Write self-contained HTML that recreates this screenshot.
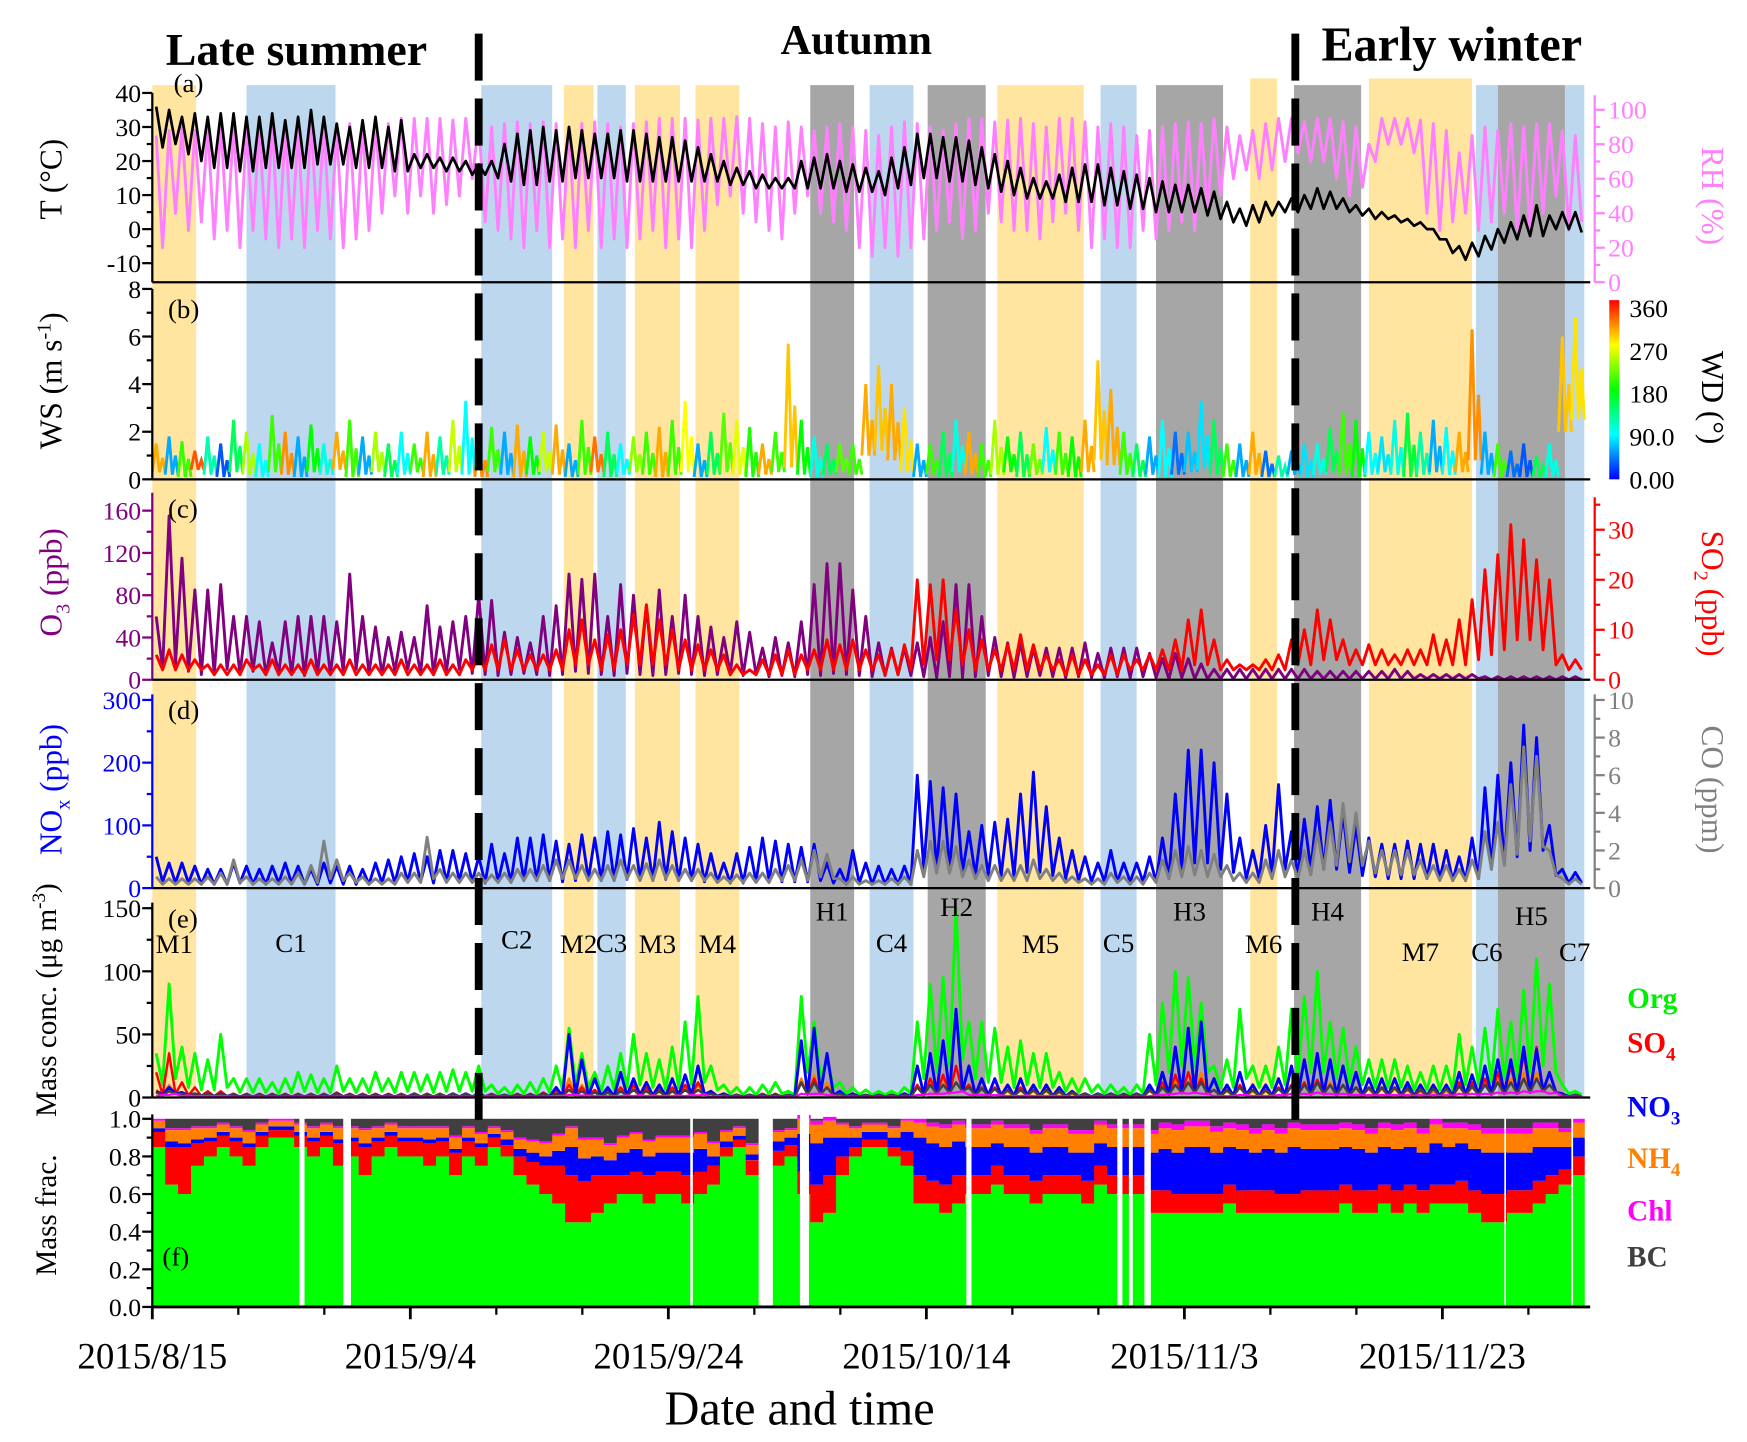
<!DOCTYPE html>
<html><head><meta charset="utf-8">
<style>
html,body{margin:0;padding:0;background:#fff;}
svg{display:block;font-family:"Liberation Serif",serif;}
</style></head>
<body>
<svg id="fig" xmlns="http://www.w3.org/2000/svg" width="1747" height="1442" viewBox="0 0 1560 1287.6" preserveAspectRatio="none">
<defs>
<linearGradient id="jet" x1="0" y1="1" x2="0" y2="0">
<stop offset="0" stop-color="#0000ff"/><stop offset="0.25" stop-color="#00ffff"/><stop offset="0.5" stop-color="#00ff00"/><stop offset="0.75" stop-color="#ffff00"/><stop offset="1" stop-color="#ff0000"/>
</linearGradient>
<clipPath id="cpa"><rect x="136" y="60" width="1284" height="192"/></clipPath>
<clipPath id="cpb"><rect x="136" y="252" width="1284" height="176"/></clipPath>
<clipPath id="cpc"><rect x="136" y="428" width="1284" height="179"/></clipPath>
<clipPath id="cpd"><rect x="136" y="607" width="1284" height="186"/></clipPath>
<clipPath id="cpe"><rect x="136" y="793" width="1284" height="187"/></clipPath>
</defs>
<g id="bands"></g>
<g id="marks"></g>
<g id="axes"></g>
<g id="labels">
<text x="148" y="58" font-size="41" font-weight="bold">Late summer</text>
<text x="697" y="48" font-size="38" font-weight="bold">Autumn</text>
<text x="1180" y="54" font-size="43" font-weight="bold">Early winter</text>
<text x="155" y="82" font-size="24">(a)</text>
<text x="150" y="284" font-size="24">(b)</text>
<text x="150" y="462" font-size="24">(c)</text>
<text x="150" y="642" font-size="24">(d)</text>
<text x="150" y="828" font-size="24">(e)</text>
<text x="145" y="1130" font-size="24">(f)</text>
<text transform="translate(55,160) rotate(-90)" text-anchor="middle" font-size="28">T (°C)</text>
<text transform="translate(55,340) rotate(-90)" text-anchor="middle" font-size="28">WS (m s<tspan font-size="18" dy="-10">-1</tspan><tspan dy="10">)</tspan></text>
<text transform="translate(55,520) rotate(-90)" text-anchor="middle" font-size="28" fill="#800080">O<tspan font-size="18" dy="7">3</tspan><tspan dy="-7"> (ppb)</tspan></text>
<text transform="translate(55,705) rotate(-90)" text-anchor="middle" font-size="28" fill="#0000ff">NO<tspan font-size="18" dy="7">x</tspan><tspan dy="-7"> (ppb)</tspan></text>
<text transform="translate(50,893) rotate(-90)" text-anchor="middle" font-size="26">Mass  conc. (μg m<tspan font-size="17" dy="-10">-3</tspan><tspan dy="10">)</tspan></text>
<text transform="translate(50,1085) rotate(-90)" text-anchor="middle" font-size="26">Mass frac.</text>
<text transform="translate(1520,175) rotate(90)" text-anchor="middle" font-size="28" fill="#ff80ff">RH (%)</text>
<text transform="translate(1520,355) rotate(90)" text-anchor="middle" font-size="28">WD (°)</text>
<text transform="translate(1520,530) rotate(90)" text-anchor="middle" font-size="28" fill="#ff0000">SO<tspan font-size="18" dy="7">2</tspan><tspan dy="-7"> (ppb)</tspan></text>
<text transform="translate(1520,705) rotate(90)" text-anchor="middle" font-size="28" fill="#808080">CO (ppm)</text>
<text x="714" y="1272" text-anchor="middle" font-size="43">Date and time</text>
<g font-size="26" font-weight="bold">
<text x="1453" y="900" fill="#00ee00">Org</text>
<text x="1453" y="940" fill="#ff0000">SO<tspan font-size="17" dy="7">4</tspan></text>
<text x="1453" y="997" fill="#0000ff">NO<tspan font-size="17" dy="7">3</tspan></text>
<text x="1453" y="1043" fill="#ff8000">NH<tspan font-size="17" dy="7">4</tspan></text>
<text x="1453" y="1090" fill="#ff00ff">Chl</text>
<text x="1453" y="1131" fill="#404040">BC</text>
</g>
</g>
<g id="episodes" font-size="24"></g>
</svg>
<script>
// ---------- data (day index 0 = 2015/8/15) ----------
const xTickLabels=["2015/8/15","2015/9/4","2015/9/24","2015/10/14","2015/11/3","2015/11/23"];
const xTickDays=[0,20,40,60,80,100];
const seasonBreaks=[25.3,88.6];
const bandNames=["M1","C1","C2","M2","C3","M3","M4","H1","C4","H2","M5","C5","H3","M6","H4","M7","C6","H5","C7"];
const bandStart=[0,7.3,25.5,31.9,34.5,37.4,42.1,51.0,55.6,60.1,65.5,73.5,77.8,85.1,88.5,94.3,102.6,104.3,109.5];
const bandEnd=[3.4,14.2,31.0,34.2,36.7,40.9,45.5,54.4,59.0,64.6,72.2,76.3,83.0,87.2,93.7,102.3,104.3,109.5,111.0];
const fracGapStart=[11.4,14.8,41.7,47.0,50.2,63.1,74.8,75.7,76.9,104.8,110.0];
const fracGapEnd=[11.8,15.4,41.9,48.1,50.9,63.5,75.2,76.0,77.4,104.9,110.1];

const tMax=[36,35,33,34,33,34,34,33,33,34, 32,33,35,33,31,30,32,33,30,32, 22,22,21,21,20,19,20,25,28,29, 30,29,30,29,28,28,29,29,28,27, 27,26,24,22,20,18,17,16,15,15, 20,21,22,20,19,18,17,21,24,28, 28,27,27,26,24,22,20,18,15,14, 16,18,19,19,18,17,16,15,14,13, 13,12,11,8,6,7,8,8,9,10, 12,11,9,7,6,5,4,3,2,0, -3,-5,-4,-2,0,2,4,7,4,5,5];
const tMin=[24,25,22,20,18,18,17,17,18,18, 18,18,19,19,19,18,18,18,17,17, 18,18,17,17,16,16,15,14,13,13, 14,14,15,15,15,15,14,14,14,14, 14,14,14,14,13,13,12,12,12,12, 12,12,12,11,11,11,10,12,13,15, 15,14,14,13,12,11,10,9,9,9, 8,8,8,7,7,6,6,5,5,5, 5,4,3,2,1,2,4,5,5,6, 6,6,5,4,3,3,2,1,0,-3, -7,-9,-8,-6,-4,-3,-2,-2,0,0,-1];
const rhMax=[85,88,90,88,90,92,90,88,90,92, 90,88,92,90,88,92,90,93,92,95, 95,95,95,94,95,92,90,92,93,92, 93,92,90,92,93,92,90,92,93,95, 95,95,94,95,95,96,95,92,90,93, 90,88,90,92,90,88,85,90,93,92, 90,88,92,95,95,93,94,95,92,90, 95,95,93,90,92,90,85,88,90,92, 93,92,95,90,85,88,92,95,95,93, 95,95,93,90,80,95,95,95,94,92, 88,75,85,90,88,92,90,92,92,88,85];
const rhMin=[20,40,30,35,25,30,20,30,25,20, 25,20,30,25,20,25,30,40,50,40, 50,40,45,50,60,35,30,25,20,30, 20,25,20,30,20,25,20,25,30,20, 25,20,30,45,50,40,35,30,25,40, 50,40,35,30,20,15,20,15,20,25, 30,35,25,30,40,35,30,30,25,35, 40,30,20,25,20,20,30,25,30,35, 30,40,50,60,65,60,65,70,75,70, 70,60,50,55,70,80,80,75,40,30, 35,40,30,35,40,30,30,40,50,30,35];
const wsMax=[1.5,1.8,1.6,1.2,1.8,1.5,2.5,2,1.5,2.7, 2,1.8,2.3,1.5,2,2.5,1.8,2,1.5,2, 1.5,2,1.8,2.5,3.3,1.5,2.2,2,2.3,1.8, 2,2.3,1.5,2.5,1.8,2,1.5,1.8,2,2.2, 2.5,3.3,1.5,2,2.8,2.5,2.2,1.5,2,5.7, 2.5,1.8,1.5,1.5,1.5,4,4.8,4,3,1.5, 1.5,2,2.5,2,1.5,2.5,1.8,2,1.5,2.2, 2,1.8,2.5,5,3.8,2,1.5,1.8,2.5,2, 2,3.3,2.5,1.5,1.5,2,1.2,1,1.2,1.5, 1.5,2.2,2.8,2.5,2,1.8,2.5,2.8,2,2.5, 2.2,2,6.3,2,1.5,1.2,1.5,1,1.5,6,6.8];
const wsMin=[0.3,0.2,0.1,0.4,0.2,0.1,0.3,0.2,0.1,0.3, 0.2,0.1,0.3,0.2,0.4,0.1,0.2,0.3,0.1,0.2, 0.3,0.1,0.2,0.3,0.2,0.1,0.3,0.2,0.1,0.2, 0.3,0.2,0.1,0.2,0.3,0.1,0.2,0.3,0.2,0.1, 0.2,0.3,0.1,0.2,0.3,0.2,0.1,0.2,0.3,0.5, 0.2,0.1,0.2,0.3,0.2,1.0,1.2,0.8,0.3,0.1, 0.2,0.1,0.3,0.2,0.1,0.2,0.3,0.1,0.2,0.3, 0.2,0.1,0.3,0.8,0.6,0.2,0.1,0.2,0.1,0.2, 0.3,0.4,0.2,0.1,0.1,0.2,0.1,0.1,0.2,0.1, 0.2,0.3,0.2,0.1,0.2,0.3,0.2,0.1,0.2,0.3, 0.2,0.3,0.8,0.2,0.1,0.1,0.1,0.1,0.1,2.0,2.5];
const wdDeg=[300,60,200,330,120,30,150,240,90,200, 310,60,180,100,300,200,60,240,150,90, 200,300,120,250,90,310,200,60,300,180, 250,300,60,200,320,150,90,230,200,300, 200,270,60,150,210,260,190,300,200,290, 180,100,150,210,200,300,290,300,280,60, 200,150,100,300,200,240,180,150,220,90, 200,180,300,290,300,200,150,60,90,40, 70,80,150,200,60,300,40,120,60,80, 100,150,200,180,90,80,100,160,120,60, 90,300,310,60,200,40,30,150,100,290,280];
const o3Max=[60,155,115,85,85,90,60,60,55,35, 55,60,60,60,55,100,60,50,40,45, 40,70,50,55,60,80,75,45,40,35, 60,70,100,95,100,60,90,80,70,85, 60,80,60,50,40,55,45,30,40,35, 55,90,110,110,85,60,35,30,30,35, 40,55,90,90,60,40,35,35,30,30, 30,30,35,25,30,30,30,25,20,25, 20,15,10,10,10,10,10,10,10,10, 8,8,8,8,8,8,10,8,5,5, 5,5,5,3,3,3,3,3,3,3,3];
const o3Min=[10,15,8,5,5,10,5,8,5,6, 5,4,6,5,8,10,6,5,8,10, 6,5,8,10,6,5,4,5,6,5, 4,5,8,6,5,4,6,5,4,5, 6,5,4,5,6,4,5,3,4,3, 5,4,6,5,4,3,4,5,4,3, 2,3,2,3,4,3,2,3,4,3, 2,3,2,2,3,2,3,2,1,2, 1,1,1,1,1,1,1,1,1,1, 1,1,1,1,1,1,1,1,1,1, 1,1,1,0,0,0,0,0,0,0,0];
const so2Max=[5,6,5,4,3,3,3,4,3,4, 3,3,4,3,3,4,3,3,3,4, 3,3,4,3,4,5,7,8,6,5, 5,6,10,12,8,9,10,13,15,12, 10,8,7,6,5,3,2,4,5,6, 5,6,8,7,8,6,5,6,7,20, 19,20,14,10,8,6,7,9,7,5, 4,5,4,3,5,5,4,5,6,8, 12,14,8,4,3,3,4,5,8,10, 14,12,8,6,7,6,5,6,6,9, 8,12,16,22,25,31,28,24,20,5,4];
const so2Min=[2,2,2,2,1,1,1,2,1,1, 1,1,1,1,1,1,1,1,1,1, 1,1,1,1,2,2,2,2,2,2, 2,2,3,3,2,2,3,3,3,3, 2,2,2,2,1,1,1,1,1,1, 2,2,2,2,2,2,1,1,2,3, 4,4,3,2,2,2,2,2,2,2, 1,1,1,1,1,2,2,2,2,2, 3,3,2,2,2,2,2,2,3,3, 4,4,3,3,3,3,3,3,3,3, 3,3,4,5,6,8,8,6,3,2,2];
const noxMax=[50,40,40,35,30,30,40,35,30,35, 40,35,30,40,35,35,30,40,45,50, 55,50,60,60,55,50,70,55,80,80, 85,75,70,85,80,90,85,95,80,105, 90,80,70,55,40,55,65,80,75,70, 65,70,40,30,60,40,35,30,35,180, 170,160,150,90,100,105,110,150,185,130, 80,60,50,40,60,40,40,50,80,150, 220,220,200,150,80,60,100,165,90,110, 130,140,120,100,80,70,70,75,70,70, 60,50,80,160,180,200,260,240,100,30,25];
const noxMin=[10,8,8,6,6,6,8,6,6,8, 8,6,6,8,6,6,6,8,8,10, 10,8,10,12,10,8,10,10,12,12, 12,10,12,14,12,12,14,14,12,14, 12,12,10,10,8,8,10,12,10,10, 10,12,8,6,8,6,6,6,6,30, 30,30,25,20,20,20,18,25,25,20, 15,12,10,10,10,10,10,10,15,30, 40,40,30,25,15,15,20,30,20,30, 30,30,25,20,18,15,15,15,15,15, 12,12,15,30,40,50,60,60,20,8,8];
const coMax=[0.6,0.5,0.5,0.5,0.6,0.8,1.5,0.6,0.5,0.5, 0.6,0.8,1.2,2.5,1.5,0.8,0.6,0.5,0.5,0.8, 0.8,2.7,1.0,0.8,0.8,0.8,0.7,0.8,1.0,1.0, 1.2,1.5,1.5,1.2,1.0,1.2,1.5,1.2,1.3,1.5, 1.2,1.0,1.0,0.8,0.6,0.7,0.8,0.8,1.0,1.2, 1.5,2.0,1.8,0.5,0.6,0.4,0.4,0.5,0.6,2.0, 2.5,2.5,2.2,1.5,1.2,1.2,1.0,1.2,1.5,1.0, 0.8,0.6,0.5,0.5,0.8,0.6,0.6,0.8,1.5,2.0, 2.2,2.0,1.8,1.2,0.8,0.8,1.5,2.0,1.5,2.0, 3.0,3.5,4.5,4.0,2.5,2.0,2.0,2.0,1.5,1.2, 1.2,1.0,1.5,3.0,3.5,5.5,7.5,7.0,2.0,0.5,0.5];
const coMin=[0.2,0.2,0.2,0.2,0.2,0.2,0.3,0.2,0.2,0.2, 0.2,0.2,0.3,0.5,0.4,0.3,0.2,0.2,0.2,0.3, 0.3,0.5,0.3,0.3,0.3,0.3,0.3,0.3,0.4,0.4, 0.4,0.5,0.5,0.4,0.4,0.4,0.5,0.4,0.4,0.5, 0.4,0.4,0.4,0.3,0.3,0.3,0.3,0.3,0.4,0.4, 0.4,0.6,0.5,0.2,0.2,0.2,0.2,0.2,0.2,0.6, 0.8,0.8,0.6,0.5,0.4,0.4,0.4,0.4,0.5,0.4, 0.3,0.3,0.2,0.2,0.3,0.2,0.2,0.3,0.5,0.6, 0.7,0.6,0.6,0.4,0.3,0.3,0.5,0.6,0.5,0.7, 1.0,1.2,1.4,1.2,0.8,0.7,0.7,0.7,0.5,0.4, 0.4,0.4,0.5,1.0,1.2,1.8,2.5,2.2,0.7,0.2,0.2];
const orgMax=[35,90,40,35,30,50,15,15,15,12, 15,20,18,15,25,15,15,20,15,20, 20,18,20,22,20,25,10,8,10,12, 15,25,55,35,20,25,35,50,35,30, 40,60,80,25,10,8,8,10,12,5, 80,60,30,12,8,6,5,5,8,60, 90,95,150,60,60,55,40,45,35,35, 20,15,15,10,10,8,10,50,75,100, 95,75,25,30,70,25,25,40,70,80, 100,60,55,40,30,30,30,25,20,25, 25,50,40,55,70,60,85,110,90,10,5];
const orgMin=[10,15,8,6,6,8,4,4,4,3, 4,5,4,4,5,4,4,5,4,5, 5,4,5,5,5,5,3,2,3,3, 4,6,10,8,5,6,8,10,8,6, 8,10,12,6,3,2,2,3,3,2, 20,15,8,3,2,2,2,2,3,15, 20,25,30,15,12,12,8,10,8,8, 5,4,4,3,3,2,3,10,20,25, 25,20,8,8,15,8,8,10,15,20, 20,15,12,10,8,8,8,6,6,6, 6,10,10,12,15,15,20,25,20,3,2];
const so4Max=[20,35,12,8,5,5,3,3,3,3, 3,3,3,3,4,3,3,3,3,3, 3,3,3,3,3,4,3,2,3,3, 4,6,10,8,6,5,8,10,8,7, 8,10,12,5,3,2,2,3,3,2, 12,15,8,3,2,2,2,2,3,10, 15,18,25,10,8,8,6,8,6,6, 5,4,3,3,3,3,3,8,12,18, 20,15,6,6,10,6,6,8,10,12, 14,10,10,8,8,8,8,8,6,8, 8,12,12,15,20,25,35,40,20,3,2];
const no3Max=[5,8,4,3,3,3,2,2,2,2, 2,2,2,2,3,2,2,2,2,2, 3,2,2,3,3,3,2,2,2,2, 3,8,50,30,15,8,20,15,12,10, 15,18,25,5,3,2,2,2,2,2, 45,55,35,5,3,2,2,2,3,25, 35,45,70,25,15,15,10,15,10,10, 8,5,3,3,3,2,3,10,20,40, 55,60,15,10,20,10,10,15,25,30, 35,30,25,20,15,15,15,12,10,10, 10,20,18,25,30,30,40,38,20,3,2];
const nh4Max=[6,10,4,3,2,2,2,2,2,2, 2,2,2,2,2,2,2,2,2,2, 2,2,2,2,2,2,2,1,2,2, 2,4,15,10,6,4,8,8,6,5, 6,8,10,3,2,1,1,2,2,1, 15,18,12,3,2,1,1,1,2,10, 14,16,25,10,7,7,5,7,5,5, 4,3,2,2,2,2,2,5,9,15, 20,20,6,5,8,5,5,7,10,12, 14,12,10,8,7,7,7,6,5,5, 5,9,8,11,14,15,20,20,10,2,1];
const chlMax=[1,2,1,1,1,1,0.5,0.5,0.5,0.5, 0.5,0.5,0.5,0.5,0.5,0.5,0.5,0.5,0.5,0.5, 0.5,0.5,0.5,0.5,0.5,0.5,0.5,0.5,0.5,0.5, 0.5,1,2,1.5,1,1,1,1,1,1, 1,1,1.5,0.5,0.5,0.5,0.5,0.5,0.5,0.5, 3,3,2,0.5,0.5,0.5,0.5,0.5,0.5,2, 3,3,4,2,2,2,1,1,1,1, 1,0.5,0.5,0.5,0.5,0.5,0.5,1,2,3, 3,3,1,1,2,1,1,2,3,3, 4,3,3,2,2,2,2,2,2,2, 2,3,3,3,4,4,5,5,3,0.5,0.5];
const bcMax=[4,5,3,3,3,3,2,2,2,2, 2,2,2,2,3,2,2,2,2,2, 3,3,3,3,3,3,2,2,2,2, 3,3,6,5,4,4,5,6,5,5, 5,6,6,3,2,2,2,2,2,2, 12,12,8,3,2,2,2,2,2,8, 10,10,12,8,7,7,6,6,6,6, 5,4,3,3,3,3,3,6,8,10, 12,12,6,6,8,6,6,7,9,10, 12,10,10,8,8,8,8,7,7,7, 7,9,9,10,12,12,15,15,10,2,2];
const fracOrg=[.85,.65,.6,.75,.8,.85,.8,.75,.85,.9, .9,.85,.8,.85,.75,.8,.7,.8,.85,.8, .8,.75,.8,.7,.8,.75,.85,.8,.7,.65, .6,.55,.45,.45,.5,.55,.6,.6,.55,.6, .6,.55,.6,.65,.8,.85,.7,.7,.75,.8, .6,.45,.5,.7,.8,.85,.85,.8,.75,.55, .55,.5,.55,.6,.6,.65,.6,.6,.55,.6, .6,.6,.55,.65,.6,.6,.6,.5,.5,.5, .5,.5,.5,.55,.5,.5,.5,.5,.5,.5, .5,.5,.55,.5,.5,.55,.5,.55,.5,.55, .55,.55,.5,.45,.45,.5,.5,.55,.6,.65,.7];
const fracSO4=[.08,.2,.25,.12,.08,.06,.08,.1,.06,.04, .04,.06,.08,.06,.12,.08,.15,.08,.06,.08, .08,.12,.08,.12,.08,.1,.05,.06,.1,.12, .15,.2,.25,.22,.2,.15,.1,.12,.15,.12, .12,.15,.12,.1,.05,.04,.08,.1,.08,.06, .12,.2,.2,.1,.05,.04,.04,.05,.08,.15, .12,.15,.15,.1,.1,.1,.1,.1,.12,.1, .1,.1,.12,.1,.1,.1,.1,.12,.12,.1, .1,.1,.1,.1,.12,.12,.12,.1,.1,.12, .12,.12,.1,.12,.12,.1,.12,.1,.12,.1, .1,.12,.12,.15,.15,.12,.12,.12,.1,.08,.1];
const fracNO3=[.02,.03,.02,.02,.02,.02,.02,.02,.02,.02, .02,.02,.02,.02,.02,.02,.02,.02,.02,.02, .02,.02,.02,.02,.02,.02,.02,.03,.04,.05, .05,.08,.15,.12,.1,.08,.12,.12,.1,.1, .1,.12,.12,.05,.03,.02,.03,.04,.05,.04, .2,.22,.2,.1,.05,.04,.04,.05,.1,.2, .2,.2,.18,.15,.15,.12,.15,.15,.15,.15, .15,.12,.15,.12,.15,.15,.15,.2,.22,.22, .25,.25,.22,.2,.22,.2,.22,.22,.25,.22, .22,.22,.2,.22,.2,.2,.22,.2,.2,.22, .2,.2,.22,.22,.22,.2,.2,.18,.15,.12,.1];
const fracNH4=[.04,.06,.07,.06,.05,.04,.05,.06,.04,.03, .03,.04,.05,.04,.06,.05,.07,.05,.04,.05, .05,.06,.05,.06,.05,.05,.03,.04,.05,.06, .07,.08,.1,.1,.09,.08,.08,.08,.08,.08, .08,.08,.08,.07,.05,.04,.05,.06,.05,.04, .08,.1,.09,.07,.05,.04,.04,.05,.06,.08, .09,.1,.09,.1,.1,.1,.1,.1,.1,.1, .1,.1,.1,.1,.1,.1,.1,.1,.11,.12, .11,.11,.11,.1,.1,.1,.1,.1,.1,.1, .1,.1,.1,.1,.1,.1,.1,.1,.1,.1, .1,.08,.1,.1,.1,.1,.1,.1,.1,.08,.08];
const fracChl=[.01,.01,.01,.01,.01,.01,.01,.01,.01,.01, .01,.01,.01,.01,.01,.01,.01,.01,.01,.01, .01,.01,.01,.01,.01,.01,.01,.01,.01,.01, .01,.01,.01,.01,.01,.01,.01,.01,.01,.01, .01,.01,.01,.01,.01,.01,.01,.01,.01,.01, .02,.02,.02,.01,.01,.01,.01,.01,.01,.02, .02,.02,.02,.02,.02,.02,.02,.02,.02,.02, .02,.02,.02,.02,.02,.02,.02,.02,.03,.03, .03,.03,.03,.03,.03,.03,.03,.03,.03,.03, .03,.03,.03,.03,.03,.03,.03,.03,.03,.03, .03,.03,.03,.03,.03,.03,.03,.03,.03,.02,.02];

// ---------- scales ----------
const X0=136, PXD=11.52;
const xd=d=>X0+d*PXD;
const yT=v=>83+(40-v)*3.04, yRH=v=>252-v*1.54;
const yWS=v=>428-v*21.25;
const yO3=v=>607-v*0.944, ySO2=v=>607-v*4.467;
const yNOx=v=>793-v*0.56, yCO=v=>793-v*16.8;
const yM=v=>980-v*1.127;
const yF=v=>1167-v*168;
const NS="http://www.w3.org/2000/svg";
function E(tag,parent){const e=document.createElementNS(NS,tag);parent.appendChild(e);return e;}
const bandsG=document.getElementById('bands'), marks=document.getElementById('marks'), axes=document.getElementById('axes'), epG=document.getElementById('episodes');

// bands
const bandColor={M:"#ffe59f",C:"#bdd7ee",H:"#a6a6a6"};
const epLabelY={M:851,C:850,H:822};
bandNames.forEach((n,i)=>{
  const r=E('rect',bandsG);
  
  
  const top=(n==="M6"||n==="M7")?70:76;
  r.setAttribute('x',xd(bandStart[i]));r.setAttribute('width',xd(bandEnd[i])-xd(bandStart[i]));
  r.setAttribute('y',top);r.setAttribute('height',980-top);
  r.setAttribute('fill',bandColor[n[0]]);
  const t=E('text',epG);
  
  
  t.setAttribute('x',(xd(bandStart[i])+xd(bandEnd[i]))/2);
  let yy=epLabelY[n[0]]; if(n==="M7"||n==="C6"||n==="C7")yy=858; if(n==="C2")yy=847; if(n==="H2")yy=818; if(n==="H5")yy=826;
  t.setAttribute('y',yy);t.setAttribute('text-anchor','middle');t.textContent=n;
});

// zigzag series
function zig(maxA,minA,yf,color,w,clip,name){
  let pts=[];
  for(let d=0;d<maxA.length;d++){pts.push(xd(d+0.3).toFixed(1)+','+yf(maxA[d]).toFixed(1));pts.push(xd(d+0.8).toFixed(1)+','+yf(minA[d]).toFixed(1));}
  const p=E('polyline',marks);
  
  
  p.setAttribute('points',pts.join(' '));p.setAttribute('fill','none');p.setAttribute('stroke',color);p.setAttribute('stroke-width',w);p.setAttribute('stroke-linejoin','round');p.setAttribute('clip-path','url(#'+clip+')');
}
zig(rhMax,rhMin,yRH,"#ff80ff",2.6,"cpa","rh-line");
zig(tMax,tMin,yT,"#000",2.4,"cpa","temperature-line");
function jet(v){const t=Math.max(0,Math.min(1,v/360));const stops=[[0,0,255],[0,255,255],[0,255,0],[255,255,0],[255,0,0]];const s=t*4,i=Math.min(3,Math.floor(s)),f=s-i;const a=stops[i],b=stops[i+1];return 'rgb('+a.map((c,k)=>Math.round(c+(b[k]-c)*f)).join(',')+')';}
for(let d=0;d<wsMax.length;d++){
  const p=E('polyline',marks);
  
  
  p.setAttribute('points',[xd(d),yWS(wsMin[d]),xd(d+0.3),yWS(wsMax[d]),xd(d+0.55),yWS(wsMin[d]),xd(d+0.8),yWS((wsMax[d]+wsMin[d])/2),xd(d+1),yWS(wsMin[d])].map(v=>v.toFixed(1)).join(' '));
  p.setAttribute('fill','none');p.setAttribute('stroke',jet(wdDeg[d]));p.setAttribute('stroke-width',2.6);p.setAttribute('clip-path','url(#cpb)');
}
zig(o3Max,o3Min,yO3,"#800080",2.6,"cpc","o3-line");
zig(so2Max,so2Min,ySO2,"#ff0000",2.6,"cpc","so2-line");
zig(noxMax,noxMin,yNOx,"#0000ff",2.6,"cpd","nox-line");
zig(coMax,coMin,yCO,"#808080",2.6,"cpd","co-line");
zig(orgMax,orgMin,yM,"#00ff00",2.6,"cpe","org-line");
const lowA=orgMin.map((v,i)=>Math.min(v,so4Max[i])*0.2);
zig(nh4Max,lowA,yM,"#ff8000",2.2,"cpe","nh4-line");
zig(so4Max,lowA,yM,"#ff0000",2.2,"cpe","so4-line");
zig(no3Max,lowA,yM,"#0000ff",2.6,"cpe","no3-line");
zig(bcMax,lowA,yM,"#404040",2.2,"cpe","bc-line");
zig(chlMax,lowA,yM,"#ff00ff",2,"cpe","chl-line");

// fraction stack
const fracColors=["#00ff00","#ff0000","#0000ff","#ff8000","#ff00ff","#404040"];
const fracNames=["org","so4","no3","nh4","chl","bc"];
for(let d=0;d<fracOrg.length;d++){
  const parts=[fracOrg[d],fracSO4[d],fracNO3[d],fracNH4[d],fracChl[d]];
  parts.push(Math.max(0,1-parts.reduce((a,b)=>a+b,0)));
  let cum=0;
  const x1=xd(d), x2=Math.min(xd(d+1),1420);
  parts.forEach((v,k)=>{
    const r=E('rect',marks);
    
    
    r.setAttribute('x',x1.toFixed(1));r.setAttribute('width',(x2-x1+0.4).toFixed(1));
    r.setAttribute('y',yF(cum+v).toFixed(1));r.setAttribute('height',(yF(cum)-yF(cum+v)).toFixed(1));
    r.setAttribute('fill',fracColors[k]);cum+=v;
  });
}
fracGapStart.forEach((s,i)=>{
  const r=E('rect',marks);
  
  
  r.setAttribute('x',xd(s));r.setAttribute('width',Math.max(1.5,xd(fracGapEnd[i])-xd(s)));r.setAttribute('y',995);r.setAttribute('height',172);r.setAttribute('fill','#fff');
});

// season dashed lines
seasonBreaks.forEach(b=>{
  const l=E('line',marks);
  
  
  l.setAttribute('x1',xd(b));l.setAttribute('x2',xd(b));l.setAttribute('y1',30);l.setAttribute('y2',1000);
  l.setAttribute('stroke','#000');l.setAttribute('stroke-width',7);l.setAttribute('stroke-dasharray','42 16');
});

// axes
function line(x1,y1,x2,y2,c,w,name){const l=E('line',axes);
  
  
  l.setAttribute('x1',x1);l.setAttribute('y1',y1);l.setAttribute('x2',x2);l.setAttribute('y2',y2);l.setAttribute('stroke',c);l.setAttribute('stroke-width',w);return l;}
function txt(x,y,s,anchor,c,fs,name){const t=E('text',axes);
  
  
  t.setAttribute('x',x);t.setAttribute('y',y);t.setAttribute('text-anchor',anchor);t.setAttribute('fill',c);t.setAttribute('font-size',fs);t.textContent=s;return t;}
function vaxis(side,x,yf,majors,minors,labels,c,top,bot,name){
  line(x,top,x,bot,c,2,name+'-line');
  const dir=side==='L'?-1:1;
  majors.forEach((v,i)=>{line(x,yf(v),x+dir*9,yf(v),c,2,name+'-tick');
    txt(side==='L'?x-10:x+12,yf(v)+8,labels[i],side==='L'?'end':'start',c,23,name+'-tick-label');});
  minors.forEach(v=>line(x,yf(v),x+dir*5,yf(v),c,2,name+'-minor-tick'));
}
const tTicks=[-10,0,10,20,30,40], tMinor=[-5,5,15,25,35];
vaxis('L',X0,yT,tTicks,tMinor,tTicks.map(String),'#000',83,252,'t-axis');
const rhTicks=[0,20,40,60,80,100], rhMinor=[10,30,50,70,90];
vaxis('R',1424,yRH,rhTicks,rhMinor,rhTicks.map(String),'#ff80ff',85,252,'rh-axis');
const wsTicks=[0,2,4,6,8], wsMinor=[1,3,5,7];
vaxis('L',X0,yWS,wsTicks,wsMinor,wsTicks.map(String),'#000',258,428,'ws-axis');
const o3Ticks=[0,40,80,120,160], o3Minor=[20,60,100,140];
vaxis('L',X0,yO3,o3Ticks,o3Minor,o3Ticks.map(String),'#800080',440,607,'o3-axis');
const so2Ticks=[0,10,20,30], so2Minor=[5,15,25,35];
vaxis('R',1424,ySO2,so2Ticks,so2Minor,so2Ticks.map(String),'#ff0000',444,607,'so2-axis');
const noxTicks=[0,100,200,300], noxMinor=[50,150,250];
vaxis('L',X0,yNOx,noxTicks,noxMinor,noxTicks.map(String),'#0000ff',620,793,'nox-axis');
const coTicks=[0,2,4,6,8,10], coMinor=[1,3,5,7,9];
vaxis('R',1424,yCO,coTicks,coMinor,coTicks.map(String),'#808080',620,793,'co-axis');
const mTicks=[0,50,100,150], mMinor=[25,75,125];
vaxis('L',X0,yM,mTicks,mMinor,mTicks.map(String),'#000',806,980,'mass-conc-axis');
const fTicks=[0,0.2,0.4,0.6,0.8,1.0], fMinor=[0.1,0.3,0.5,0.7,0.9];
vaxis('L',X0,yF,fTicks,fMinor,fTicks.map(v=>v.toFixed(1)),'#000',995,1167,'mass-frac-axis');
[252,428,607,793,980].forEach(y=>line(X0,y,1420,y,'#000',2,'panel-separator'));
line(X0,1167,1420,1167,'#000',2.5,'x-axis-line');
xTickDays.forEach((d,i)=>{line(xd(d),1167,xd(d),1178,'#000',2.5,'x-tick');txt(xd(d),1222,xTickLabels[i],'middle','#000',33,'x-tick-label');});
for(let d=20/3;d<111;d+=20/3){ if(Math.abs(d/20-Math.round(d/20))>0.01) line(xd(d),1167,xd(d),1174,'#000',2,'x-minor-tick'); }
const cb=E('rect',axes);


cb.setAttribute('x',1437);cb.setAttribute('y',268);cb.setAttribute('width',9);cb.setAttribute('height',160);cb.setAttribute('fill','url(#jet)');
const wdTicks=[0,90,180,270,360], wdLabels=["0.00","90.0","180","270","360"];
wdTicks.forEach((v,i)=>txt(1455,428-v/360*153+8,wdLabels[i],'start','#000',23,'wd-colorbar-label'));
</script>
</body></html>
